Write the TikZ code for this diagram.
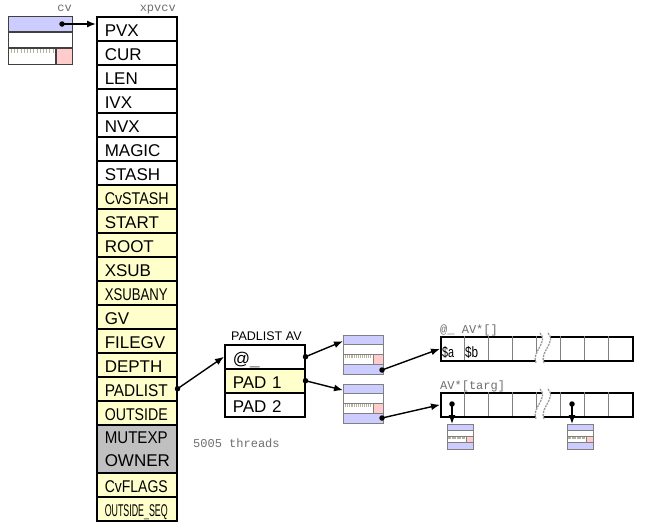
\documentclass[tikz,border=0pt]{standalone}
\usepackage{fontspec}
\setmainfont{Liberation Sans}
\setmonofont{Liberation Mono}
\usepackage{graphicx}
\usepackage{xcolor}
\usepackage{tikz}
\usetikzlibrary{arrows.meta,positioning,calc}
\definecolor{cBlue}{HTML}{CCCCFF}
\definecolor{cYellow}{HTML}{FFFFCC}
\definecolor{cGrey}{HTML}{C0C0C0}
\definecolor{cPink}{HTML}{FFCCCC}
\definecolor{cGray}{HTML}{6E6E6E}
\definecolor{cEdge}{HTML}{808080}
\definecolor{cTick}{HTML}{B4B49C}
\newcommand{\cellfont}{\fontsize{17}{23}\selectfont}
\newcommand{\ttlbl}{\fontsize{12}{14}\selectfont\ttfamily}
\newcommand{\squeeze}[2]{\resizebox{#1}{\height}{#2}}
\newcommand{\gapbar}{{\color{cGray}\_}}
\tikzset{
  cell/.style={draw=black,fill=#1,line width=1.5pt,anchor=north west,minimum width=80pt,minimum height=24pt,
    text width=64pt,inner xsep=8pt,inner ysep=0pt,align=left,font=\cellfont,text height=16pt,text depth=0pt},
  cell/.default=white,
  avbox/.style={draw=black,line width=1.5pt,anchor=north west,minimum width=192pt,minimum height=24pt,inner sep=0pt},
  divl/.style={draw=cEdge,line width=1pt},
  wave/.style={draw=cEdge!80,line width=1.3pt,dash pattern=on 2pt off 1pt},
  svline/.style={draw=cEdge,line width=1pt},
  cvline/.style={draw=black!75,line width=1.3pt},
  tickl/.style={draw=cTick,line width=0.6pt},
  pdot/.style={circle,fill=black,inner sep=0pt,minimum size=5.5pt},
  ptr/.style={-{Latex[length=9pt,width=7pt]},line width=1.4pt},
  tlbl/.style={font=\ttlbl,text=cGray,inner sep=0pt,anchor=base west},
  vlbl/.style={font=\fontsize{15}{17}\selectfont,inner sep=0pt,anchor=base west},
}
% sv head: name, x, y, width, row height, rows
\newcommand{\svbox}[7][svline]{%
  \begin{scope}[shift={(#3,#4)}]
    \fill[cBlue] (0,0) rectangle (#5,#6);
    \ifnum#7>3 \fill[cBlue] (0,3*#6) rectangle (#5,4*#6); \fi
    \fill[cPink] (#5-#6,2*#6) rectangle (#5,3*#6);
    \pgfmathtruncatemacro\nticks{(#5-#6-2)/(#6/5)}
    \foreach \k in {1,...,\nticks} \draw[tickl] (\k*#6/5,2*#6) -- ++(0,#6/3);
    \draw[#1] (0,#6) -- (#5,#6) (0,2*#6) -- (#5,2*#6) (#5-#6,2*#6) -- (#5-#6,3*#6);
    \ifnum#7>3 \draw[#1] (0,3*#6) -- (#5,3*#6); \fi
    \node[#1,draw,anchor=north west,inner sep=0pt,minimum width=#5,minimum height=#7*#6] (#2) at (0,0) {};
  \end{scope}}
% array with a break: name, top y
\newcommand{\avrow}[2]{%
  \node[avbox] (#1) at (440,#2) {};
  \foreach \x in {464,488,...,608} \draw[divl] (\x,#2) -- (\x,#2+24);
  \fill[white] (540,#2-2) .. controls (549,#2+6) and (531,#2+16) .. (536,#2+26) -- (544,#2+26)
    .. controls (539,#2+16) and (557,#2+6) .. (548,#2-2) -- cycle;
  \draw[wave] (540,#2-3) .. controls (549,#2+6) and (531,#2+16) .. (536,#2+27);
  \draw[wave] (548,#2-3) .. controls (557,#2+6) and (539,#2+16) .. (544,#2+27);}

\begin{document}
\begin{tikzpicture}[x=1pt,y=-1pt]
  \useasboundingbox (0,0) rectangle (648,528);
  \svbox[cvline]{cvh}{8}{16}{64}{16}{3}
  \node[tlbl,anchor=base east] (cvlbl) at (72,11) {cv};
  \node[tlbl,anchor=base east] (xpvlbl) at (176,11) {xpvcv};
  % xpvcv body
  \node[cell] (pvx) at (96,16) {PVX};
  \node[cell] (cur) at (96,40) {CUR};
  \node[cell] (len) at (96,64) {LEN};
  \node[cell] (ivx) at (96,88) {IVX};
  \node[cell] (nvx) at (96,112) {NVX};
  \node[cell] (magic) at (96,136) {MAGIC};
  \node[cell] (stash) at (96,160) {STASH};
  \node[cell=cYellow] (cvstash) at (96,184) {\squeeze{64pt}{CvSTASH}};
  \node[cell=cYellow] (start) at (96,208) {START};
  \node[cell=cYellow] (root) at (96,232) {ROOT};
  \node[cell=cYellow] (xsub) at (96,256) {XSUB};
  \node[cell=cYellow] (xsubany) at (96,280) {\squeeze{63pt}{XSUBANY}};
  \node[cell=cYellow] (gv) at (96,304) {GV};
  \node[cell=cYellow] (filegv) at (96,328) {FILEGV};
  \node[cell=cYellow] (depth) at (96,352) {DEPTH};
  \node[cell=cYellow] (padlist) at (96,376) {\squeeze{63pt}{PADLIST}};
  \node[cell=cYellow] (outside) at (96,400) {\squeeze{63pt}{OUTSIDE}};
  \node[cell=cGrey,minimum height=48pt,text height={},text depth={}] (mutexp) at (96,424) {\squeeze{63pt}{MUTEXP}\\OWNER};
  \node[cell=cYellow] (cvflags) at (96,472) {\squeeze{63pt}{CvFLAGS}};
  \node[cell=cYellow] (outseq) at (96,496) {\squeeze{63pt}{OUTSIDE\gapbar SEQ}};
  % padlist
  \node[font=\fontsize{12.5}{14}\selectfont,inner sep=0pt,anchor=base west] (pllbl) at (231,340) {PADLIST AV};
  \node[cell] (pat) at (224,344) {@\gapbar};
  \node[cell=cYellow] (pad1) at (224,368) {PAD 1};
  \node[cell] (pad2) at (224,392) {PAD 2};
  \node[tlbl] (thr) at (193,447) {5005 threads};
  \svbox{sva}{343}{335}{40}{9.75}{4}
  \svbox{svb}{343}{384}{40}{9.75}{4}
  % arrays
  \avrow{av1}{336}
  \avrow{av2}{392}
  \node[tlbl] (av1lbl) at (440,333) {@\_ AV*[]};
  \node[tlbl] (av2lbl) at (440,389) {AV*[targ]};
  \node[vlbl] (sa) at (442,357) {\squeeze{12pt}{\$a}};
  \node[vlbl] (sb) at (465,357) {\squeeze{13pt}{\$b}};
  \svbox{svc}{447}{424}{26}{6.25}{4}
  \svbox{svd}{567}{424}{26}{6.25}{4}
  % pointers
  \node[pdot] (cvp) at (62,24) {};
  \node[pdot] (plp) at (padlist.east) {};
  \node[pdot] (atp) at (pat.east) {};
  \node[pdot] (p1p) at (pad1.east) {};
  \node[pdot] (sap) at (382,370) {};
  \node[pdot] (sbp) at (382,418) {};
  \node[pdot] (t1p) at (452,404) {};
  \node[pdot] (t2p) at (572,404) {};
  \draw[ptr] (cvp.center) -- (cvp -| pvx.west);
  \draw[ptr] (plp.center) -- (pat.west);
  \draw[ptr] (atp.center) -- (sva.146);
  \draw[ptr] (p1p.center) -- (svb.146);
  \draw[ptr] (sap.center) -- (av1.west);
  \draw[ptr] (sbp.center) -- (av2.west);
  \draw[ptr] (t1p.center) -- (t1p |- svc.north);
  \draw[ptr] (t2p.center) -- (t2p |- svd.north);
\end{tikzpicture}
\end{document}
